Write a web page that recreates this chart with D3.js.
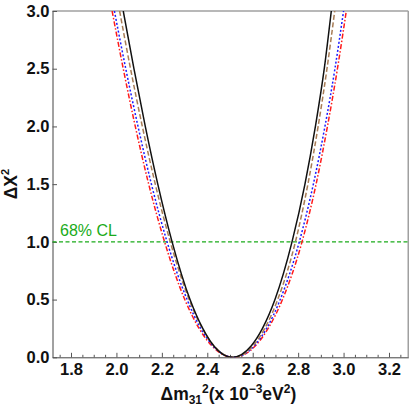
<!DOCTYPE html>
<html>
<head>
<meta charset="utf-8">
<script src="https://cdn.jsdelivr.net/npm/d3@7"></script>
<style>
  body { margin: 0; background: #fff; }
  svg text { font-family: "Liberation Sans", Arial, sans-serif; }
</style>
</head>
<body>
<svg class="chart"></svg>
<script>
const levels = [3, 2.5, 2, 1.5, 1, 0.5, 0.25, 0.1, 0];

// x positions (Δm31² in 1e-3 eV²), left branch and right branch, same order as levels
const blackLeft  = [2.030, 2.077, 2.127, 2.182, 2.245, 2.324, 2.380, 2.428, 2.510];
const blackRight = [2.946, 2.915, 2.876, 2.830, 2.773, 2.698, 2.643, 2.594, 2.510];
const brownLeft  = [2.014, 2.062, 2.114, 2.171, 2.237, 2.320, 2.378, 2.429, 2.515];
const brownRight = [2.961, 2.927, 2.888, 2.843, 2.788, 2.710, 2.653, 2.602, 2.515];
const blueLeft   = [1.991, 2.041, 2.095, 2.154, 2.223, 2.311, 2.371, 2.425, 2.515];
const blueRight  = [3.000, 2.962, 2.918, 2.867, 2.805, 2.721, 2.661, 2.607, 2.515];
const redLeft    = [1.981, 2.030, 2.083, 2.142, 2.212, 2.301, 2.364, 2.420, 2.515];
const redRight   = [3.012, 2.973, 2.929, 2.879, 2.817, 2.731, 2.668, 2.612, 2.515];

const xTicks = [1.8, 2.0, 2.2, 2.4, 2.6, 2.8, 3.0, 3.2];
const yTicks = [0, 0.5, 1.0, 1.5, 2.0, 2.5, 3.0];
const clLevel = 1.0;

const margin = { top: 11, right: 0.7, bottom: 51.7, left: 52.5 },
      width = 409 - margin.left - margin.right,
      height = 409 - margin.top - margin.bottom;

const svg = d3.select(".chart")
    .attr("width", 409)
    .attr("height", 409)
    .append("g")
    .attr("transform", `translate(${margin.left}, ${margin.top})`);

const x = d3.scaleLinear().domain([1.7185, 3.285]).range([0, width]);
const y = d3.scaleLinear().domain([0, 3]).range([height, 0]);

svg.append("clipPath").attr("id", "plot")
    .append("rect").attr("width", width).attr("height", height);

// frame: top and right in light grey
svg.append("line").attr("x1", 0).attr("x2", width).attr("y1", 0).attr("y2", 0)
    .attr("stroke", "#a0a0a0").attr("stroke-width", 1.6);
svg.append("line").attr("x1", width).attr("x2", width).attr("y1", 0).attr("y2", height)
    .attr("stroke", "#a0a0a0").attr("stroke-width", 1.6);

// minor x ticks
const xMinor = d3.range(1.75, 3.29, 0.05).filter(v => !xTicks.some(t => Math.abs(t - v) < 1e-6));
svg.append("g")
    .attr("transform", `translate(0, ${height})`)
    .call(d3.axisBottom(x).tickValues(xMinor).tickSize(-2.5).tickFormat(""))
    .call(g => g.select(".domain").remove())
    .selectAll("line").attr("stroke", "#555");

const xAxis = svg.append("g")
    .attr("transform", `translate(0, ${height})`)
    .call(d3.axisBottom(x).tickValues(xTicks).tickSizeInner(-4.5).tickSizeOuter(0).tickPadding(6).tickFormat(d3.format(".1f")));

const yAxis = svg.append("g")
    .call(d3.axisLeft(y).tickValues(yTicks).tickSizeInner(-4.5).tickSizeOuter(0).tickPadding(3).tickFormat(d3.format(".1f")));

[xAxis, yAxis].forEach(a => {
    a.select(".domain").attr("stroke", "#444");
    a.selectAll(".tick line").attr("stroke", "#555");
    a.selectAll("text").attr("font-size", 16.5).attr("font-weight", "bold").attr("fill", "#111");
});

// 68% CL line
svg.append("line")
    .attr("x1", 0).attr("x2", width)
    .attr("y1", y(clLevel)).attr("y2", y(clLevel))
    .attr("stroke", "#1aab1a").attr("stroke-width", 1.4)
    .attr("stroke-dasharray", "4,2.5");

svg.append("text")
    .attr("x", 7.5).attr("y", y(clLevel) - 6)
    .attr("fill", "#1aab1a").attr("font-size", 16)
    .text("68% CL");

const series = [
    { left: redLeft,   right: redRight,   color: "#ff1a1a", dash: "5,2,1.5,2" },
    { left: blueLeft,  right: blueRight,  color: "#1a1aff", dash: "2,2" },
    { left: brownLeft, right: brownRight, color: "#a87c55", dash: "5,2.5" },
    { left: blackLeft, right: blackRight, color: "#111",    dash: null }
];

const line = d3.line()
    .x(d => x(d[0]))
    .y(d => y(d[1]))
    .curve(d3.curveMonotoneX);

series.forEach(s => {
    const pts = s.left.map((v, i) => [v, levels[i]])
        .concat(s.right.slice(0, -1).map((v, i) => [v, levels[i]]).reverse());
    svg.append("path")
        .datum(pts)
        .attr("clip-path", "url(#plot)")
        .attr("fill", "none")
        .attr("stroke", s.color)
        .attr("stroke-width", 1.5)
        .attr("stroke-dasharray", s.dash)
        .attr("d", line);
});

// axis titles
svg.append("text")
    .attr("x", width / 2 - 2).attr("y", height + 43)
    .attr("text-anchor", "middle")
    .attr("font-size", 17.5).attr("font-weight", "bold").attr("fill", "#111")
    .html('Δm<tspan font-size="12" dy="4">31</tspan><tspan font-size="12" dy="-11">2</tspan><tspan dy="7">(x 10</tspan><tspan font-size="12" dy="-7">−3</tspan><tspan dy="7">eV</tspan><tspan font-size="12" dy="-7">2</tspan><tspan dy="7">)</tspan>');

svg.append("text")
    .attr("transform", `translate(${-36}, ${height / 2}) rotate(-90)`)
    .attr("text-anchor", "middle")
    .attr("font-size", 17.5).attr("font-weight", "bold").attr("fill", "#111")
    .html('ΔX<tspan font-size="11" dy="-8">2</tspan>');
</script>
</body>
</html>
